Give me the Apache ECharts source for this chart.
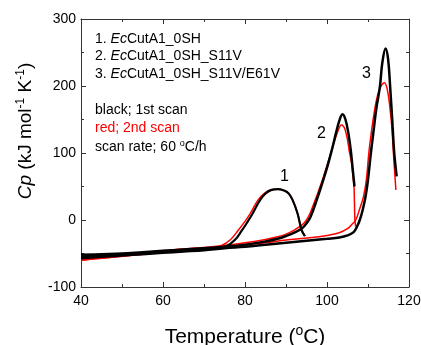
<!DOCTYPE html>
<html><head><meta charset="utf-8">
<script src="https://cdn.jsdelivr.net/npm/echarts@6/dist/echarts.min.js"></script>
<style>html,body{margin:0;padding:0;background:#fff}#c{width:421px;height:345px}</style>
</head><body><div id="c"></div>
<script>
var xTicks = [40, 60, 80, 100, 120];
var yTicks = [-100, 0, 100, 200, 300];

var black1 = [[40,-55],[45,-53],[50,-51],[55,-50],[60,-48],[65,-46],[70,-44],[73,-42],[75.5,-39],[77.5,-30],[79.2,-16],[80.5,-4],[81.9,10],[83.7,30],[85.1,40],[86.5,45],[88,46],[89.5,44],[90.6,40],[91.6,30],[92.8,10],[93.8,-15],[94.6,-24]];
var red1 = [[40,-60],[45,-57],[50,-54],[55,-51],[60,-48],[65,-45],[70,-42],[72,-41],[74.3,-38],[76.5,-29],[78.4,-15],[80,-2],[81.3,10],[83.2,30],[84.8,40],[86.3,45],[88,46],[89.5,44],[90.6,40],[91.6,30],[92.8,10],[93.8,-14],[94.7,-24]];
var black2 = [[40,-52],[45,-51],[50,-50],[55,-48],[60,-46],[65,-44],[70,-42],[75,-40],[80,-37],[85,-32],[88,-28],[90,-24],[92,-19],[94,-12],[95,-5],[96,5],[97.5,30],[99,58],[100.1,80],[101.2,105],[102.2,130],[103,148],[103.8,158],[104.5,150],[105.2,130],[105.8,104],[106.2,80],[106.7,50]];
var red2 = [[40,-58],[45,-55],[50,-52],[55,-49],[60,-46],[65,-43],[70,-41],[75,-38],[80,-34],[85,-29],[88,-25],[90,-21],[92,-15],[94,-7],[95,0],[96,12],[97.5,36],[99,62],[100.2,85],[101.2,105],[102.2,125],[103,138],[103.6,142],[104.3,137],[105,120],[105.4,104],[106,85],[106.4,62],[106.6,50],[106.8,0],[107,-10]];
var black3 = [[40,-57],[45,-55],[50,-53],[55,-51],[60,-49],[65,-47],[70,-45],[75,-42],[80,-40],[85,-37],[90,-34],[95,-31],[100,-28],[103,-26],[105,-23],[106.5,-18],[107.3,-10],[108,0],[108.7,15],[109.4,35],[110,60],[110.7,100],[111.3,130],[112,165],[112.9,199],[113.5,235],[114.3,256],[114.9,240],[115.4,199],[116,140],[116.4,100],[117,65]];
var red3 = [[40,-60],[45,-57],[50,-54],[55,-51],[60,-48],[65,-46],[70,-43],[75,-40],[80,-37],[85,-34],[90,-30],[95,-27],[100,-23],[103,-19],[105,-13],[106,-7],[107,0],[108,17],[108.9,35],[109.6,60],[110.2,100],[110.8,130],[111.5,160],[112.3,185],[113.2,200],[114,205],[114.7,195],[115.3,170],[115.8,140],[116.2,100],[116.8,45]];

var legendLines = [
  ['1. ', 'Ec', 'CutA1_0SH'],
  ['2. ', 'Ec', 'CutA1_0SH_S11V'],
  ['3. ', 'Ec', 'CutA1_0SH_S11V/E61V']
];
var peakLabels = ['1', '2', '3'];

var FONT = 'Arial, "Liberation Sans", sans-serif';
var chart = echarts.init(document.getElementById('c'), null, {renderer: 'canvas'});

function line(data, color, width, z, sm) {
  return {type: 'line', data: data, showSymbol: false, symbol: 'none', smooth: sm,
    lineStyle: {color: color, width: width}, z: z, animation: false};
}

var axisColor = '#333';
var option = {
  animation: false,
  grid: {left: 81, right: 12, top: 19, bottom: 58, containLabel: false, outerBoundsMode: 'none'},
  xAxis: [{
    type: 'value', min: xTicks[0], max: xTicks[xTicks.length-1], interval: 20,
    axisLine: {onZero: false, lineStyle: {color: axisColor, width: 1}},
    axisTick: {inside: true, length: 5, lineStyle: {color: axisColor}},
    minorTick: {show: true, splitNumber: 2, length: 3, lineStyle: {color: axisColor}},
    splitLine: {show: false},
    axisLabel: {color: '#000', fontSize: 14, fontFamily: FONT, margin: 7},
    name: '{n|Temperature (}{s|o}{n|C)}', nameLocation: 'middle', nameGap: 37,
    nameTextStyle: {rich: {
      n: {fontSize: 21, fontFamily: FONT, color: '#000'},
      s: {fontSize: 14, fontFamily: FONT, color: '#000', padding: [0,0,12,0]}
    }}
  }, {
    type: 'value', position: 'top', min: 40, max: 120, interval: 20,
    axisLine: {show: true, onZero: false, lineStyle: {color: axisColor}},
    axisTick: {inside: true, length: 5, lineStyle: {color: axisColor}},
    minorTick: {show: true, splitNumber: 2, length: 3, lineStyle: {color: axisColor}},
    axisLabel: {show: false}, splitLine: {show: false}
  }],
  yAxis: [{
    type: 'value', min: yTicks[0], max: yTicks[yTicks.length-1], interval: 100,
    axisLine: {show: true, onZero: false, lineStyle: {color: axisColor}},
    axisTick: {inside: true, length: 5, lineStyle: {color: axisColor}},
    minorTick: {show: true, splitNumber: 2, length: 3, lineStyle: {color: axisColor}},
    splitLine: {show: false},
    axisLabel: {color: '#000', fontSize: 14, fontFamily: FONT, margin: 5}
  }, {
    type: 'value', position: 'right', min: -100, max: 300, interval: 100,
    axisLine: {show: true, onZero: false, lineStyle: {color: axisColor}},
    axisTick: {inside: true, length: 5, lineStyle: {color: axisColor}},
    minorTick: {show: true, splitNumber: 2, length: 3, lineStyle: {color: axisColor}},
    axisLabel: {show: false}, splitLine: {show: false}
  }],
  series: [
    line(red1, '#ff0000', 1.5, 2, 0.4),
    line(red2, '#ff0000', 1.5, 2, 0.2),
    line(red3, '#ff0000', 1.5, 2, 0.4),
    line(black1, '#000', 2.2, 3, 0.4),
    line(black2, '#000', 2.5, 3, 0.4),
    line(black3, '#000', 2.5, 3, 0.4)
  ],
  graphic: []
};

// y-axis title
option.graphic.push({type: 'text', x: 26, y: 131, rotation: Math.PI / 2,
  style: {text: '{i|Cp}{n| (kJ mol}{s|-1}{n| K}{s|-1}{n|)}', align: 'center', verticalAlign: 'middle',
    rich: {
      i: {fontSize: 19, fontFamily: FONT, fontStyle: 'italic', fill: '#000'},
      n: {fontSize: 19, fontFamily: FONT, fill: '#000'},
      s: {fontSize: 12, fontFamily: FONT, fill: '#000', padding: [0,0,11,0]}
    }}});

var legendRich = {
  n: {fontSize: 14, fontFamily: FONT, fill: '#000'},
  i: {fontSize: 14, fontFamily: FONT, fill: '#000', fontStyle: 'italic'}
};
legendLines.forEach(function (l, k) {
  option.graphic.push({type: 'text', left: 95, top: 32 + k * 17.5,
    style: {text: '{n|' + l[0] + '}{i|' + l[1] + '}{n|' + l[2] + '}', rich: legendRich}});
});
option.graphic.push({type: 'text', left: 95, top: 103, style: {text: 'black; 1st scan', fontSize: 14, fontFamily: FONT, fill: '#000'}});
option.graphic.push({type: 'text', left: 95, top: 121, style: {text: 'red; 2nd scan', fontSize: 14, fontFamily: FONT, fill: '#ff0000'}});
option.graphic.push({type: 'text', left: 95, top: 139, style: {
  text: '{n|scan rate; 60 }{s|o}{n|C/h}',
  rich: {n: {fontSize: 14, fontFamily: FONT, fill: '#000'}, s: {fontSize: 9, fontFamily: FONT, fill: '#000', padding: [0,0,8,0]}}}});
var peakPos = [[280, 169], [317, 126], [362, 66]];
peakLabels.forEach(function (t, k) {
  option.graphic.push({type: 'text', left: peakPos[k][0], top: peakPos[k][1],
    style: {text: t, fontSize: 16, fontFamily: FONT, fill: '#000'}});
});
chart.setOption(option);
</script></body></html>
